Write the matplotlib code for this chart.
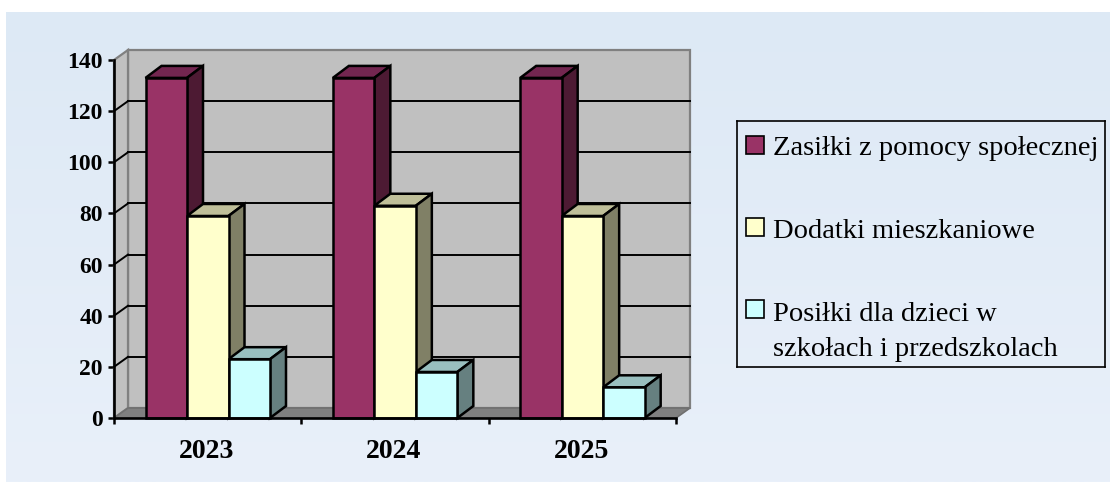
import numpy as np
import matplotlib
matplotlib.use('Agg')
import matplotlib.pyplot as plt
from matplotlib.patches import Polygon, Rectangle

plt.rcParams['font.family'] = ['Liberation Serif', 'DejaVu Serif']

# dane
lata = ['2023', '2024', '2025']
zasilki = [133, 133, 133]
dodatki = [79, 83, 79]
posilki = [23, 18, 12]
serie = [zasilki, dodatki, posilki]
nazwy = ['Zasiłki z pomocy społecznej', 'Dodatki mieszkaniowe',
         'Posiłki dla dzieci w\nszkołach i przedszkolach']
yticks = [0, 20, 40, 60, 80, 100, 120, 140]

kolory = ['#993366', '#FFFFCC', '#CCFFFF']
kolory_gora = ['#732650', '#BFBF99', '#99BFBF']
kolory_bok = ['#4D1A33', '#808066', '#668080']

W, H = 1116, 496
fig = plt.figure(figsize=(W / 100, H / 100), dpi=100, facecolor='white')


def box(x0, y0, x1, y1):
    # piksele od gory -> wspolrzedne figury
    return [x0 / W, 1 - y1 / H, (x1 - x0) / W, (y1 - y0) / H]


# tlo z gradientem
bg = fig.add_axes(box(6, 12, 1110, 482), zorder=0)
bg.axis('off')
gr = np.linspace(0, 1, 256).reshape(-1, 1, 1)
top = np.array([221, 233, 245]) / 255
bot = np.array([233, 240, 250]) / 255
bg.imshow(top + gr * (bot - top), aspect='auto', extent=(0, 1, 0, 1))

# os glowna = przednia plaszczyzna wykresu
ax = fig.add_axes(box(114, 60, 676, 418), zorder=1)
ax.set_xlim(0, 3)
ax.set_ylim(0, 140)
ax.patch.set_alpha(0)

px_x = 562 / 3
px_y = 358 / 140
gx, gy = 14 / px_x, 10 / px_y      # glebokosc sciany
bx, by = 16 / px_x, 12 / px_y      # glebokosc slupka


def poly(pts, fc, ec='black', lw=1.8, z=2):
    ax.add_patch(Polygon(pts, closed=True, fc=fc, ec=ec, lw=lw, zorder=z,
                         clip_on=False, joinstyle='miter'))


# sciany
poly([(gx, gy), (3 + gx, gy), (3 + gx, 140 + gy), (gx, 140 + gy)], '#C0C0C0', '#808080', 1.6)
poly([(0, 0), (gx, gy), (gx, 140 + gy), (0, 140)], '#C0C0C0', '#808080', 1.6)
poly([(0, 0), (3, 0), (3 + gx, gy), (gx, gy)], '#808080', '#707070', 1.2)

# siatka
for t in yticks[1:-1]:
    ax.plot([gx, 3 + gx], [t + gy, t + gy], color='black', lw=1.4, zorder=3, clip_on=False)
    ax.plot([0, gx], [t, t + gy], color='black', lw=1.4, zorder=3, clip_on=False)

# slupki
szer = 41.5 / px_x
start = (145.5 - 114) / px_x
for i, wartosci in enumerate(serie):
    x = np.arange(3) + start + i * szer
    ax.bar(x, wartosci, width=szer, align='edge', color=kolory[i], edgecolor='black',
           linewidth=1.8, zorder=5 + i * 0.1, clip_on=False)
    for xx, v in zip(x, wartosci):
        poly([(xx, v), (xx + szer, v), (xx + szer + bx, v + by), (xx + bx, v + by)],
             kolory_gora[i], z=4 + i * 0.1)
        poly([(xx + szer, 0), (xx + szer + bx, by), (xx + szer + bx, v + by), (xx + szer, v)],
             kolory_bok[i], z=4 + i * 0.1)

for s in ['top', 'right']:
    ax.spines[s].set_visible(False)
for s in ['left', 'bottom']:
    ax.spines[s].set_linewidth(1.9)
    ax.spines[s].set_zorder(8)

ax.set_yticks(yticks)
ax.set_xticks([0, 1, 2, 3])
ax.set_xticklabels([])
ax.set_xticks([0.495, 1.49, 2.495], labels=lata, minor=True)
ax.tick_params(axis='y', length=4, width=1.8, labelsize=17, pad=4)
ax.tick_params(axis='x', which='major', length=4, width=1.8)
ax.tick_params(axis='x', which='minor', length=0, labelsize=20, pad=15)
for lab in ax.get_yticklabels() + ax.get_xticklabels(minor=True):
    lab.set_fontweight('bold')

# legenda
leg = fig.add_axes(box(737, 121, 1105, 367), zorder=2)
leg.set_xlim(737, 1105)
leg.set_ylim(367, 121)
leg.patch.set_alpha(0)
leg.set_xticks([])
leg.set_yticks([])
for s in leg.spines.values():
    s.set_linewidth(1.2)
kwadraty = [144.5, 226.5, 308.5]
linie = [155, 238, 356]   # linia bazowa ostatniego wiersza
for i, naz in enumerate(nazwy):
    leg.add_patch(Rectangle((745.5, kwadraty[i] - 9), 18, 18, fc=kolory[i], ec='black', lw=1.2))
    leg.text(773, linie[i], naz, fontsize=20.5, va='baseline', ha='left',
             linespacing=1.55, color='black')

fig.savefig('out.png', dpi=100, facecolor='white')
